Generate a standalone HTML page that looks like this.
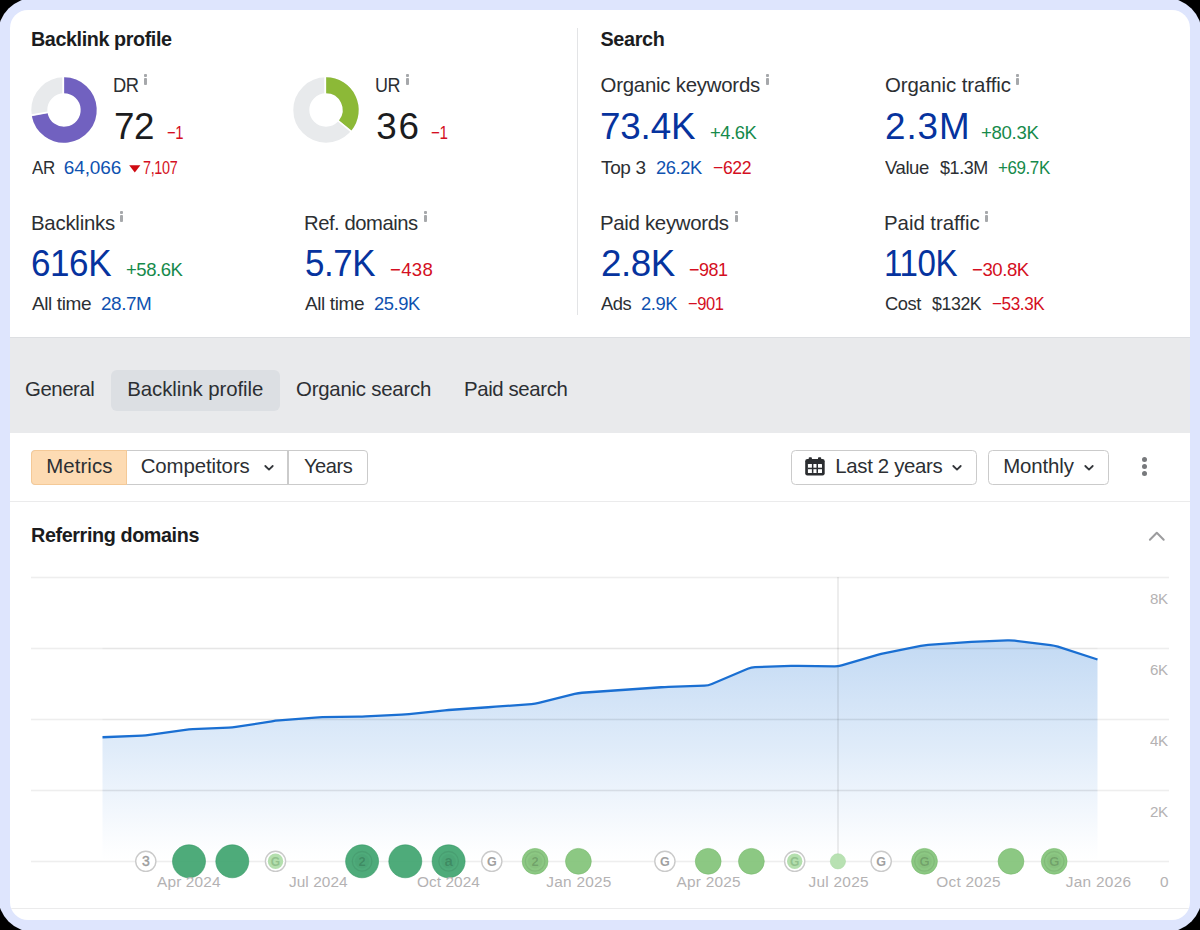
<!DOCTYPE html>
<html>
<head>
<meta charset="utf-8">
<title>Overview</title>
<style>
*{box-sizing:border-box;margin:0;padding:0}
html,body{width:1200px;height:930px;overflow:hidden;background:#000}
body{font-family:"Liberation Sans",sans-serif;color:#2c2f33;position:relative}
#frame{position:absolute;left:-2px;top:-2px;width:1204px;height:934px;background:#dee5fd;border-radius:36px}
#card{position:absolute;left:10px;top:10px;width:1180px;height:910px;background:#fff;border-radius:18px;overflow:hidden}
#in{position:absolute;left:-10px;top:-10px;width:1200px;height:930px}
.t{position:absolute;white-space:nowrap;line-height:1}
.ib{position:absolute;background:#a6a8ab;border-radius:0.9px}
.box{position:absolute}
svg text{font-family:"Liberation Sans",sans-serif}
</style>
</head>
<body>
<div id="frame"></div>
<div id="card"><div id="in">
<!-- top panel divider -->
<div class="box" style="left:577px;top:28px;width:1.4px;height:287px;background:#e3e4e6"></div>
<!-- donuts -->
<svg width="70" height="70" viewBox="-35 -35 70 70" style="position:absolute;left:29.1px;top:74.5px"><circle r="24.7" fill="none" stroke="#e8eaec" stroke-width="16"/><path d="M0 -24.70 A24.70 24.70 0 1 1 -24.26 4.63" fill="none" stroke="#7161c0" stroke-width="16"/><line x1="-0.80" y1="-15.00" x2="-0.80" y2="-34.00" stroke="#fff" stroke-width="1.9"/><line x1="-14.87" y1="2.03" x2="-33.58" y2="5.36" stroke="#fff" stroke-width="1.5"/></svg>
<svg width="70" height="70" viewBox="-35 -35 70 70" style="position:absolute;left:291.2px;top:74.5px"><circle r="24.7" fill="none" stroke="#e8eaec" stroke-width="16"/><path d="M0 -24.70 A24.70 24.70 0 0 1 19.23 15.50" fill="none" stroke="#8cb937" stroke-width="16"/><line x1="-0.80" y1="-15.00" x2="-0.80" y2="-34.00" stroke="#fff" stroke-width="1.9"/><line x1="11.18" y1="10.02" x2="25.81" y2="22.13" stroke="#fff" stroke-width="1.5"/></svg>
<!-- AR triangle -->
<svg width="12" height="8" viewBox="0 0 12 8" style="position:absolute;left:129.2px;top:165px"><path d="M0.2 0.3 L11.4 0.3 L5.8 7.6 Z" fill="#cf0a12"/></svg>
<div class="ib" style="left:144.4px;top:74.1px;width:3px;height:2.8px"></div><div class="ib" style="left:144.4px;top:77.7px;width:3px;height:7.2px"></div>
<div class="ib" style="left:406.2px;top:74.1px;width:3px;height:2.8px"></div><div class="ib" style="left:406.2px;top:77.7px;width:3px;height:7.2px"></div>
<div class="ib" style="left:765.8px;top:74.1px;width:3px;height:2.8px"></div><div class="ib" style="left:765.8px;top:77.7px;width:3px;height:7.2px"></div>
<div class="ib" style="left:1016.3px;top:74.1px;width:3px;height:2.8px"></div><div class="ib" style="left:1016.3px;top:77.7px;width:3px;height:7.2px"></div>
<div class="ib" style="left:120.3px;top:211.3px;width:3px;height:2.8px"></div><div class="ib" style="left:120.3px;top:214.9px;width:3px;height:7.2px"></div>
<div class="ib" style="left:423.8px;top:211.3px;width:3px;height:2.8px"></div><div class="ib" style="left:423.8px;top:214.9px;width:3px;height:7.2px"></div>
<div class="ib" style="left:734.8px;top:211.3px;width:3px;height:2.8px"></div><div class="ib" style="left:734.8px;top:214.9px;width:3px;height:7.2px"></div>
<div class="ib" style="left:985.3px;top:211.3px;width:3px;height:2.8px"></div><div class="ib" style="left:985.3px;top:214.9px;width:3px;height:7.2px"></div>
<!-- grey band with tabs -->
<div class="box" style="left:10px;top:337px;width:1180px;height:95.5px;background:#e9eaec;border-top:1.4px solid #dddfe2"></div>
<div class="box" style="left:111.3px;top:370px;width:169.2px;height:40.6px;background:#dcdfe3;border-radius:6px"></div>
<!-- toolbar -->
<div class="box" style="left:31px;top:450px;width:337px;height:34.6px;border:1.4px solid #cbcbcb;border-radius:4px;background:#fff"></div>
<div class="box" style="left:31px;top:450px;width:96px;height:34.6px;border:1.4px solid #f4c997;border-radius:4px 0 0 4px;background:#fddbb3"></div>
<div class="box" style="left:287.3px;top:451px;width:1.4px;height:33px;background:#cbcbcb"></div>
<svg width="12" height="8" viewBox="0 0 12 8" style="position:absolute;left:262.8px;top:463.8px"><path d="M2.3 2 L6 5.6 L9.7 2" fill="none" stroke="#33363a" stroke-width="1.8" stroke-linecap="round" stroke-linejoin="round"/></svg>
<div class="box" style="left:791px;top:450px;width:185.6px;height:34.6px;border:1.4px solid #cbcbcb;border-radius:4.5px;background:#fff"></div>
<div class="box" style="left:988px;top:450px;width:121px;height:34.6px;border:1.4px solid #cbcbcb;border-radius:4.5px;background:#fff"></div>
<svg width="20" height="19" viewBox="0 0 20 19" style="position:absolute;left:805.2px;top:456.8px"><rect x="0.2" y="2" width="19.5" height="16.4" rx="2.2" fill="#2b2d30"/><rect x="3.7" y="0.2" width="3.2" height="4" rx="0.9" fill="#2b2d30"/><rect x="13" y="0.2" width="3.2" height="4" rx="0.9" fill="#2b2d30"/><rect x="2.9" y="6.9" width="14.1" height="9" rx="0.5" fill="#fff"/>
<g fill="#2b2d30"><rect x="6.9" y="6.9" width="1.5" height="9"/><rect x="11.5" y="6.9" width="1.5" height="9"/><rect x="2.9" y="10.7" width="14.1" height="1.5"/></g></svg>
<svg width="12" height="8" viewBox="0 0 12 8" style="position:absolute;left:950.9px;top:464.2px"><path d="M2.3 2 L6 5.6 L9.7 2" fill="none" stroke="#33363a" stroke-width="1.8" stroke-linecap="round" stroke-linejoin="round"/></svg>
<svg width="12" height="8" viewBox="0 0 12 8" style="position:absolute;left:1083.2px;top:464.2px"><path d="M2.3 2 L6 5.6 L9.7 2" fill="none" stroke="#33363a" stroke-width="1.8" stroke-linecap="round" stroke-linejoin="round"/></svg>
<div class="box" style="left:1141.9px;top:457.2px;width:5.2px;height:5.2px;border-radius:50%;background:#77797c"></div>
<div class="box" style="left:1141.9px;top:464.1px;width:5.2px;height:5.2px;border-radius:50%;background:#77797c"></div>
<div class="box" style="left:1141.9px;top:471.1px;width:5.2px;height:5.2px;border-radius:50%;background:#77797c"></div>
<div class="box" style="left:10px;top:500.8px;width:1180px;height:1.5px;background:#ebebec"></div>
<!-- collapse caret -->
<svg width="20" height="12" viewBox="0 0 20 12" style="position:absolute;left:1146.7px;top:530px"><path d="M2.9 9.8 L9.8 2.7 L16.7 9.8" fill="none" stroke="#9c9c9e" stroke-width="2" stroke-linecap="round" stroke-linejoin="round"/></svg>
<svg id="chart" width="1200" height="930" viewBox="0 0 1200 930" style="position:absolute;left:0;top:0">
<defs><linearGradient id="ag" x1="0" y1="640" x2="0" y2="861.5" gradientUnits="userSpaceOnUse"><stop offset="0" stop-color="#1f74d4" stop-opacity="0.27"/><stop offset="0.5" stop-color="#2a7cd9" stop-opacity="0.145"/><stop offset="0.94" stop-color="#3b86de" stop-opacity="0.012"/><stop offset="1" stop-color="#4a90e2" stop-opacity="0"/></linearGradient></defs>
<rect x="31" y="576.7" width="1138" height="1.6" fill="#eeeeee"/>
<rect x="31" y="647.7" width="1138" height="1.6" fill="#eeeeee"/>
<rect x="31" y="718.7" width="1138" height="1.6" fill="#eeeeee"/>
<rect x="31" y="789.7" width="1138" height="1.6" fill="#eeeeee"/>
<rect x="31" y="860.7" width="1138" height="1.6" fill="#eeeeee"/>
<path d="M102.50 737.25 L142.08 735.65 Q145.76 735.50 149.44 734.97 L185.34 729.78 Q189.02 729.25 192.70 729.10 L228.61 727.65 Q232.28 727.50 235.96 726.93 L271.87 721.32 Q275.54 720.75 279.22 720.45 L315.13 717.55 Q318.80 717.25 322.48 717.19 L358.39 716.56 Q362.07 716.50 365.74 716.33 L401.65 714.67 Q405.33 714.50 409.00 714.12 L444.91 710.38 Q448.59 710.00 452.26 709.75 L488.17 707.25 Q491.85 707.00 495.52 706.72 L531.43 704.03 Q535.11 703.75 538.79 702.84 L574.69 693.91 Q578.37 693.00 582.05 692.75 L617.95 690.25 Q621.63 690.00 625.31 689.75 L661.21 687.25 Q664.89 687.00 668.57 686.87 L704.48 685.63 Q708.15 685.50 711.83 683.95 L747.74 668.80 Q751.41 667.25 755.09 667.12 L791.00 665.88 Q794.67 665.75 798.35 665.81 L834.26 666.44 Q837.93 666.50 841.61 665.42 L877.52 654.83 Q881.20 653.75 884.87 653.03 L920.78 645.97 Q924.46 645.25 928.13 644.97 L964.04 642.28 Q967.72 642.00 971.39 641.85 L1007.30 640.40 Q1010.98 640.25 1014.66 640.70 L1050.56 645.05 Q1054.24 645.50 1057.92 646.69 L1097.50 659.50 L1097.5 861.5 L102.5 861.5 Z" fill="url(#ag)"/>
<rect x="102.5" y="647.7" width="995" height="1.6" fill="#000" fill-opacity="0.03"/>
<rect x="102.5" y="718.7" width="995" height="1.6" fill="#000" fill-opacity="0.03"/>
<rect x="102.5" y="789.7" width="995" height="1.6" fill="#000" fill-opacity="0.03"/>
<rect x="837.3" y="577" width="1.4" height="285" fill="#000" fill-opacity="0.10"/>
<path d="M102.50 737.25 L142.08 735.65 Q145.76 735.50 149.44 734.97 L185.34 729.78 Q189.02 729.25 192.70 729.10 L228.61 727.65 Q232.28 727.50 235.96 726.93 L271.87 721.32 Q275.54 720.75 279.22 720.45 L315.13 717.55 Q318.80 717.25 322.48 717.19 L358.39 716.56 Q362.07 716.50 365.74 716.33 L401.65 714.67 Q405.33 714.50 409.00 714.12 L444.91 710.38 Q448.59 710.00 452.26 709.75 L488.17 707.25 Q491.85 707.00 495.52 706.72 L531.43 704.03 Q535.11 703.75 538.79 702.84 L574.69 693.91 Q578.37 693.00 582.05 692.75 L617.95 690.25 Q621.63 690.00 625.31 689.75 L661.21 687.25 Q664.89 687.00 668.57 686.87 L704.48 685.63 Q708.15 685.50 711.83 683.95 L747.74 668.80 Q751.41 667.25 755.09 667.12 L791.00 665.88 Q794.67 665.75 798.35 665.81 L834.26 666.44 Q837.93 666.50 841.61 665.42 L877.52 654.83 Q881.20 653.75 884.87 653.03 L920.78 645.97 Q924.46 645.25 928.13 644.97 L964.04 642.28 Q967.72 642.00 971.39 641.85 L1007.30 640.40 Q1010.98 640.25 1014.66 640.70 L1050.56 645.05 Q1054.24 645.50 1057.92 646.69 L1097.50 659.50" fill="none" stroke="#1a6fd2" stroke-width="2.3" stroke-linejoin="round" stroke-linecap="butt"/>
<circle cx="145.8" cy="861.3" r="10.1" fill="#fff" stroke="#cacaca" stroke-width="1.4"/><text x="145.8" y="865.6" font-size="14" fill="#9c9c9c" stroke="#9c9c9c" stroke-width="0.4" text-anchor="middle">3</text>
<circle cx="189.0" cy="861.3" r="16.5" fill="#3fa46f" fill-opacity="0.92" stroke="#2f9560" stroke-opacity="0.55" stroke-width="1"/>
<circle cx="232.3" cy="861.3" r="16.5" fill="#3fa46f" fill-opacity="0.92" stroke="#2f9560" stroke-opacity="0.55" stroke-width="1"/>
<circle cx="275.5" cy="861.3" r="10.1" fill="#fff" stroke="#cacaca" stroke-width="1.4"/><circle cx="275.5" cy="861.3" r="7.7" fill="#b4dfae"/><text x="275.5" y="865.6" font-size="12" font-weight="bold" fill="#92c18d" text-anchor="middle">G</text>
<circle cx="362.1" cy="861.3" r="16.5" fill="#3fa46f" fill-opacity="0.92" stroke="#2f9560" stroke-opacity="0.55" stroke-width="1"/><circle cx="362.1" cy="861.3" r="9.8" fill="none" stroke="#000" stroke-opacity="0.07" stroke-width="1.3"/><circle cx="362.1" cy="861.3" r="7.3" fill="#000" fill-opacity="0.03"/><text x="362.1" y="865.9" font-size="13" font-weight="bold" fill="#000" fill-opacity="0.16" text-anchor="middle">2</text>
<circle cx="405.3" cy="861.3" r="16.5" fill="#3fa46f" fill-opacity="0.92" stroke="#2f9560" stroke-opacity="0.55" stroke-width="1"/>
<circle cx="448.6" cy="861.3" r="16.5" fill="#3fa46f" fill-opacity="0.92" stroke="#2f9560" stroke-opacity="0.55" stroke-width="1"/><circle cx="448.6" cy="861.3" r="9.8" fill="none" stroke="#000" stroke-opacity="0.07" stroke-width="1.3"/><circle cx="448.6" cy="861.3" r="7.3" fill="#000" fill-opacity="0.03"/><text x="448.6" y="865.6" font-size="15" font-weight="bold" fill="#000" fill-opacity="0.16" text-anchor="middle">a</text>
<circle cx="491.8" cy="861.3" r="10.1" fill="#fff" stroke="#cacaca" stroke-width="1.4"/><text x="491.8" y="865.8" font-size="12.5" font-weight="bold" fill="#a0a0a0" text-anchor="middle">G</text>
<circle cx="535.1" cy="861.3" r="12.9" fill="#82c378" fill-opacity="0.92" stroke="#74b86a" stroke-opacity="0.55" stroke-width="1"/><circle cx="535.1" cy="861.3" r="9.8" fill="none" stroke="#000" stroke-opacity="0.07" stroke-width="1.3"/><circle cx="535.1" cy="861.3" r="7.3" fill="#000" fill-opacity="0.03"/><text x="535.1" y="865.9" font-size="13" font-weight="bold" fill="#000" fill-opacity="0.16" text-anchor="middle">2</text>
<circle cx="578.4" cy="861.3" r="12.9" fill="#82c378" fill-opacity="0.92" stroke="#74b86a" stroke-opacity="0.55" stroke-width="1"/>
<circle cx="664.9" cy="861.3" r="10.1" fill="#fff" stroke="#cacaca" stroke-width="1.4"/><text x="664.9" y="865.8" font-size="12.5" font-weight="bold" fill="#a0a0a0" text-anchor="middle">G</text>
<circle cx="708.2" cy="861.3" r="12.9" fill="#82c378" fill-opacity="0.92" stroke="#74b86a" stroke-opacity="0.55" stroke-width="1"/>
<circle cx="751.4" cy="861.3" r="12.9" fill="#82c378" fill-opacity="0.92" stroke="#74b86a" stroke-opacity="0.55" stroke-width="1"/>
<circle cx="794.7" cy="861.3" r="10.1" fill="#fff" stroke="#cacaca" stroke-width="1.4"/><circle cx="794.7" cy="861.3" r="7.7" fill="#b4dfae"/><text x="794.7" y="865.6" font-size="12" font-weight="bold" fill="#92c18d" text-anchor="middle">G</text>
<circle cx="837.9" cy="861.3" r="7.6" fill="#b4dfae" fill-opacity="0.95" stroke="#a8d8a2" stroke-opacity="0.55" stroke-width="1"/>
<circle cx="881.2" cy="861.3" r="10.1" fill="#fff" stroke="#cacaca" stroke-width="1.4"/><text x="881.2" y="865.8" font-size="12.5" font-weight="bold" fill="#a0a0a0" text-anchor="middle">G</text>
<circle cx="924.5" cy="861.3" r="12.9" fill="#82c378" fill-opacity="0.92" stroke="#74b86a" stroke-opacity="0.55" stroke-width="1"/><circle cx="924.5" cy="861.3" r="9.8" fill="none" stroke="#000" stroke-opacity="0.07" stroke-width="1.3"/><circle cx="924.5" cy="861.3" r="7.3" fill="#000" fill-opacity="0.03"/><text x="924.5" y="865.9" font-size="13" font-weight="bold" fill="#000" fill-opacity="0.16" text-anchor="middle">G</text>
<circle cx="1011.0" cy="861.3" r="12.9" fill="#82c378" fill-opacity="0.92" stroke="#74b86a" stroke-opacity="0.55" stroke-width="1"/>
<circle cx="1054.2" cy="861.3" r="12.9" fill="#82c378" fill-opacity="0.92" stroke="#74b86a" stroke-opacity="0.55" stroke-width="1"/><circle cx="1054.2" cy="861.3" r="9.8" fill="none" stroke="#000" stroke-opacity="0.07" stroke-width="1.3"/><circle cx="1054.2" cy="861.3" r="7.3" fill="#000" fill-opacity="0.03"/><text x="1054.2" y="865.9" font-size="13" font-weight="bold" fill="#000" fill-opacity="0.16" text-anchor="middle">G</text>
</svg>
<div class="box" style="left:10px;top:907.6px;width:1180px;height:1.5px;background:#ebebec"></div>
<div class="t" style="left:31.00px;top:30.000px;font-size:19.8px;color:#1b1c1e;letter-spacing:-0.420px;font-weight:bold;">Backlink profile</div>
<div class="t" style="left:600.50px;top:30.000px;font-size:19.8px;color:#1b1c1e;letter-spacing:-0.329px;font-weight:bold;">Search</div>
<div class="t" style="left:113.30px;top:75.000px;font-size:20.4px;color:#2c2f33;letter-spacing:-0.450px;transform:scaleX(0.8982);transform-origin:0 0;">DR</div>
<div class="t" style="left:114.00px;top:109.000px;font-size:36.8px;color:#1b1c1e;letter-spacing:-0.450px;transform:scaleX(0.9996);transform-origin:0 0;">72</div>
<div class="t" style="left:167.00px;top:124.000px;font-size:18.6px;color:#d40f22;letter-spacing:-0.450px;transform:scaleX(0.7987);transform-origin:0 0;">−1</div>
<div class="t" style="left:31.70px;top:158.000px;font-size:19.0px;color:#2c2f33;letter-spacing:-0.450px;transform:scaleX(0.8920);transform-origin:0 0;">AR</div>
<div class="t" style="left:63.70px;top:158.000px;font-size:19.0px;color:#0f52b0;letter-spacing:-0.089px;">64,066</div>
<div class="t" style="left:143.30px;top:158.000px;font-size:19.0px;color:#d40f22;letter-spacing:-0.450px;transform:scaleX(0.7570);transform-origin:0 0;">7,107</div>
<div class="t" style="left:375.42px;top:75.000px;font-size:20.4px;color:#2c2f33;letter-spacing:-0.450px;transform:scaleX(0.8799);transform-origin:0 0;">UR</div>
<div class="t" style="left:376.20px;top:109.000px;font-size:36.8px;color:#1b1c1e;letter-spacing:1.835px;">36</div>
<div class="t" style="left:431.30px;top:124.000px;font-size:18.6px;color:#d40f22;letter-spacing:-0.450px;transform:scaleX(0.8183);transform-origin:0 0;">−1</div>
<div class="t" style="left:31.00px;top:213.000px;font-size:20.4px;color:#2c2f33;letter-spacing:-0.241px;">Backlinks</div>
<div class="t" style="left:31.05px;top:246.000px;font-size:36.8px;color:#06339e;letter-spacing:-0.450px;transform:scaleX(0.9519);transform-origin:0 0;">616K</div>
<div class="t" style="left:125.50px;top:261.000px;font-size:18.6px;color:#168a4b;letter-spacing:-0.450px;transform:scaleX(0.9949);transform-origin:0 0;">+58.6K</div>
<div class="t" style="left:32.00px;top:294.000px;font-size:19.0px;color:#2c2f33;letter-spacing:-0.389px;">All time</div>
<div class="t" style="left:100.50px;top:294.000px;font-size:19.0px;color:#0f52b0;letter-spacing:-0.450px;transform:scaleX(0.9964);transform-origin:0 0;">28.7M</div>
<div class="t" style="left:304.01px;top:213.000px;font-size:20.4px;color:#2c2f33;letter-spacing:-0.450px;transform:scaleX(0.9913);transform-origin:0 0;">Ref. domains</div>
<div class="t" style="left:305.05px;top:246.000px;font-size:36.8px;color:#06339e;letter-spacing:-0.450px;transform:scaleX(0.9485);transform-origin:0 0;">5.7K</div>
<div class="t" style="left:390.00px;top:261.000px;font-size:18.6px;color:#d40f22;letter-spacing:0.320px;">−438</div>
<div class="t" style="left:305.00px;top:294.000px;font-size:19.0px;color:#2c2f33;letter-spacing:-0.389px;">All time</div>
<div class="t" style="left:374.00px;top:294.000px;font-size:19.0px;color:#0f52b0;letter-spacing:-0.450px;transform:scaleX(0.9651);transform-origin:0 0;">25.9K</div>
<div class="t" style="left:600.50px;top:75.000px;font-size:20.4px;color:#2c2f33;letter-spacing:-0.233px;">Organic keywords</div>
<div class="t" style="left:600.00px;top:109.000px;font-size:36.8px;color:#06339e;letter-spacing:-0.154px;">73.4K</div>
<div class="t" style="left:709.50px;top:124.000px;font-size:18.6px;color:#168a4b;letter-spacing:-0.450px;transform:scaleX(0.9915);transform-origin:0 0;">+4.6K</div>
<div class="t" style="left:601.00px;top:158.000px;font-size:19.0px;color:#2c2f33;letter-spacing:-0.353px;">Top 3</div>
<div class="t" style="left:656.00px;top:158.000px;font-size:19.0px;color:#0f52b0;letter-spacing:-0.450px;transform:scaleX(0.9651);transform-origin:0 0;">26.2K</div>
<div class="t" style="left:712.50px;top:158.000px;font-size:19.0px;color:#d40f22;letter-spacing:-0.450px;transform:scaleX(0.9296);transform-origin:0 0;">−622</div>
<div class="t" style="left:885.00px;top:75.000px;font-size:20.4px;color:#2c2f33;letter-spacing:-0.043px;">Organic traffic</div>
<div class="t" style="left:885.00px;top:109.000px;font-size:36.8px;color:#06339e;letter-spacing:0.949px;">2.3M</div>
<div class="t" style="left:981.00px;top:124.000px;font-size:18.6px;color:#168a4b;letter-spacing:-0.309px;">+80.3K</div>
<div class="t" style="left:885.00px;top:158.000px;font-size:19.0px;color:#2c2f33;letter-spacing:-0.450px;transform:scaleX(0.9762);transform-origin:0 0;">Value</div>
<div class="t" style="left:939.50px;top:158.000px;font-size:19.0px;color:#2c2f33;letter-spacing:-0.450px;transform:scaleX(0.9466);transform-origin:0 0;">$1.3M</div>
<div class="t" style="left:997.50px;top:158.000px;font-size:19.0px;color:#168a4b;letter-spacing:-0.450px;transform:scaleX(0.8925);transform-origin:0 0;">+69.7K</div>
<div class="t" style="left:600.00px;top:213.000px;font-size:20.4px;color:#2c2f33;letter-spacing:-0.304px;">Paid keywords</div>
<div class="t" style="left:600.75px;top:246.000px;font-size:36.8px;color:#06339e;letter-spacing:-0.450px;transform:scaleX(0.9993);transform-origin:0 0;">2.8K</div>
<div class="t" style="left:688.75px;top:261.000px;font-size:18.6px;color:#d40f22;letter-spacing:-0.450px;transform:scaleX(0.9642);transform-origin:0 0;">−981</div>
<div class="t" style="left:601.00px;top:294.000px;font-size:19.0px;color:#2c2f33;letter-spacing:-0.450px;transform:scaleX(0.9652);transform-origin:0 0;">Ads</div>
<div class="t" style="left:641.25px;top:294.000px;font-size:19.0px;color:#0f52b0;letter-spacing:-0.450px;transform:scaleX(0.9655);transform-origin:0 0;">2.9K</div>
<div class="t" style="left:687.50px;top:294.000px;font-size:19.0px;color:#d40f22;letter-spacing:-0.450px;transform:scaleX(0.8684);transform-origin:0 0;">−901</div>
<div class="t" style="left:884.00px;top:213.000px;font-size:20.4px;color:#2c2f33;letter-spacing:-0.024px;">Paid traffic</div>
<div class="t" style="left:883.95px;top:246.000px;font-size:36.8px;color:#06339e;letter-spacing:-0.450px;transform:scaleX(0.8996);transform-origin:0 0;">110K</div>
<div class="t" style="left:971.75px;top:261.000px;font-size:18.6px;color:#d40f22;letter-spacing:-0.450px;transform:scaleX(0.9992);transform-origin:0 0;">−30.8K</div>
<div class="t" style="left:885.00px;top:294.000px;font-size:19.0px;color:#2c2f33;letter-spacing:-0.450px;transform:scaleX(0.9626);transform-origin:0 0;">Cost</div>
<div class="t" style="left:931.75px;top:294.000px;font-size:19.0px;color:#2c2f33;letter-spacing:-0.450px;transform:scaleX(0.9351);transform-origin:0 0;">$132K</div>
<div class="t" style="left:992.00px;top:294.000px;font-size:19.0px;color:#d40f22;letter-spacing:-0.450px;transform:scaleX(0.9010);transform-origin:0 0;">−53.3K</div>
<div class="t" style="left:25.25px;top:379.000px;font-size:20.4px;color:#2c2f33;letter-spacing:-0.450px;transform:scaleX(0.9991);transform-origin:0 0;">General</div>
<div class="t" style="left:127.25px;top:379.000px;font-size:20.4px;color:#2c2f33;letter-spacing:-0.069px;">Backlink profile</div>
<div class="t" style="left:296.00px;top:379.000px;font-size:20.4px;color:#2c2f33;letter-spacing:-0.225px;">Organic search</div>
<div class="t" style="left:464.00px;top:379.000px;font-size:20.4px;color:#2c2f33;letter-spacing:-0.384px;">Paid search</div>
<div class="t" style="left:46.20px;top:456.000px;font-size:20.4px;color:#2c2f33;letter-spacing:0.082px;">Metrics</div>
<div class="t" style="left:140.70px;top:456.000px;font-size:20.4px;color:#2c2f33;letter-spacing:-0.082px;">Competitors</div>
<div class="t" style="left:303.70px;top:456.000px;font-size:20.4px;color:#2c2f33;letter-spacing:-0.450px;transform:scaleX(0.9838);transform-origin:0 0;">Years</div>
<div class="t" style="left:835.30px;top:456.000px;font-size:20.4px;color:#2c2f33;letter-spacing:-0.334px;">Last 2 years</div>
<div class="t" style="left:1003.20px;top:456.000px;font-size:20.4px;color:#2c2f33;letter-spacing:-0.117px;">Monthly</div>
<div class="t" style="left:31.00px;top:526.000px;font-size:19.8px;color:#1b1c1e;letter-spacing:-0.398px;font-weight:bold;">Referring domains</div>
<div class="t" style="left:1150.00px;top:591.000px;font-size:15.4px;color:#b4b2b3;letter-spacing:-0.450px;transform:scaleX(0.9812);transform-origin:0 0;">8K</div>
<div class="t" style="left:1150.00px;top:662.000px;font-size:15.4px;color:#b4b2b3;letter-spacing:-0.450px;transform:scaleX(0.9812);transform-origin:0 0;">6K</div>
<div class="t" style="left:1150.00px;top:733.000px;font-size:15.4px;color:#b4b2b3;letter-spacing:-0.450px;transform:scaleX(0.9812);transform-origin:0 0;">4K</div>
<div class="t" style="left:1150.00px;top:804.000px;font-size:15.4px;color:#b4b2b3;letter-spacing:-0.450px;transform:scaleX(0.9812);transform-origin:0 0;">2K</div>
<div class="t" style="left:1160.00px;top:874.000px;font-size:15.4px;color:#b4b2b3;letter-spacing:0.000px;">0</div>
<div class="t" style="left:157.00px;top:874.000px;font-size:15.4px;color:#b4b2b3;letter-spacing:0.156px;">Apr 2024</div>
<div class="t" style="left:289.00px;top:874.000px;font-size:15.4px;color:#b4b2b3;letter-spacing:0.053px;">Jul 2024</div>
<div class="t" style="left:417.00px;top:874.000px;font-size:15.4px;color:#b4b2b3;letter-spacing:0.058px;">Oct 2024</div>
<div class="t" style="left:546.30px;top:874.000px;font-size:15.4px;color:#b4b2b3;letter-spacing:0.247px;">Jan 2025</div>
<div class="t" style="left:676.40px;top:874.000px;font-size:15.4px;color:#b4b2b3;letter-spacing:0.256px;">Apr 2025</div>
<div class="t" style="left:808.60px;top:874.000px;font-size:15.4px;color:#b4b2b3;letter-spacing:0.253px;">Jul 2025</div>
<div class="t" style="left:936.25px;top:874.000px;font-size:15.4px;color:#b4b2b3;letter-spacing:0.265px;">Oct 2025</div>
<div class="t" style="left:1065.75px;top:874.000px;font-size:15.4px;color:#b4b2b3;letter-spacing:0.283px;">Jan 2026</div>
</div></div>
</body>
</html>
